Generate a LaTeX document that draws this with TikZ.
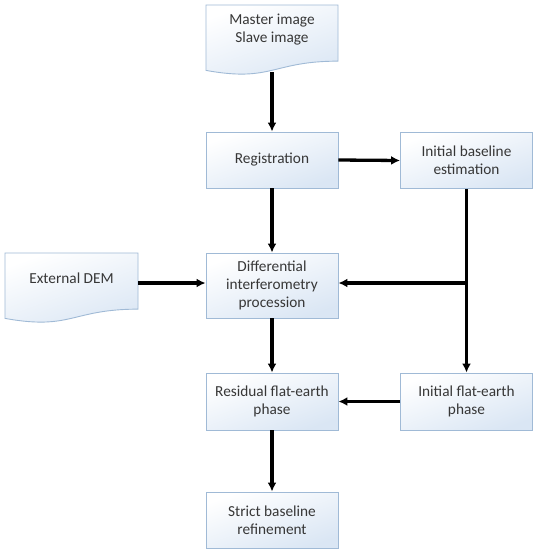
\documentclass[tikz,border=0pt]{standalone}
\usepackage{fontspec}
\setmainfont{Carlito}
\usetikzlibrary{arrows.meta,calc}
\definecolor{boxline}{RGB}{160,186,214}
\definecolor{boxfill}{RGB}{218,230,244}
\definecolor{txt}{RGB}{55,55,55}
\tikzset{
  procbox/.style={draw=boxline, line width=0.9pt, top color=white, bottom color=boxfill, shading angle=20,
    minimum width=132pt, minimum height=56pt, align=center, text=txt, font=\fontsize{15.3}{18}\selectfont, inner sep=2pt},
  docbox/.style={draw=boxline, line width=0.9pt, top color=white, bottom color=boxfill, shading angle=20},
  doctext/.style={align=center, text=txt, font=\fontsize{15.3}{18}\selectfont},
  flow/.style={line width=3.3pt, -{Latex[length=9pt,width=9pt]}},
}
\newcommand\mydoc[4]{%
  \path[docbox] (#1,#2) -- ({#1+#3},#2) -- ({#1+#3},{#2+0.802*#4})
    .. controls ({#1+0.5*#3},{#2+0.802*#4}) and ({#1+0.5*#3},{#2+1.107*#4}) .. (#1,{#2+0.934*#4}) -- cycle;}
\begin{document}
\begin{tikzpicture}[x=1pt,y=-1pt]
\path[fill=white] (0,0) rectangle (539,550);
\useasboundingbox (0,0) rectangle (539,550);
% document shapes
\mydoc{206}{5}{132}{70}
\node[doctext] (ms) at (272,30) {Master image\\Slave image};
\coordinate (msb) at (272,72);
\mydoc{5}{253}{133}{70}
\node[doctext] (ed) at (71.5,278) {External DEM};
\coordinate (edr) at (138,285);
% process boxes
\node[procbox] (reg) at (272,160) {Registration};
\node[procbox] (ibe) at (466.5,160.5) {Initial baseline\\estimation};
\node[procbox, minimum height=65pt] (dif) at (272,285.5) {Differential\\interferometry\\procession};
\node[procbox, minimum height=57pt] (res) at (272,401.5) {Residual flat-earth\\phase};
\node[procbox, minimum height=57pt] (ife) at (466.5,401.5) {Initial flat-earth\\phase};
\node[procbox] (str) at (272,520) {Strict baseline\\refinement};
\coordinate (br) at (ibe.south |- 0,283);
% connectors
\draw[flow] (msb) -- (reg.north);
\draw[flow] (reg.east) -- (ibe.west);
\draw[flow] (reg.south) -- (dif.north);
\draw[flow] (ibe.south) -- (ife.north);
\draw[flow] (br) -- (dif.east |- br);
\draw[flow] (edr |- br) -- (dif.west |- br);
\draw[flow] (dif.south) -- (res.north);
\draw[flow] (ife.west) -- (res.east);
\draw[flow] (res.south) -- (str.north);
\end{tikzpicture}
\end{document}
